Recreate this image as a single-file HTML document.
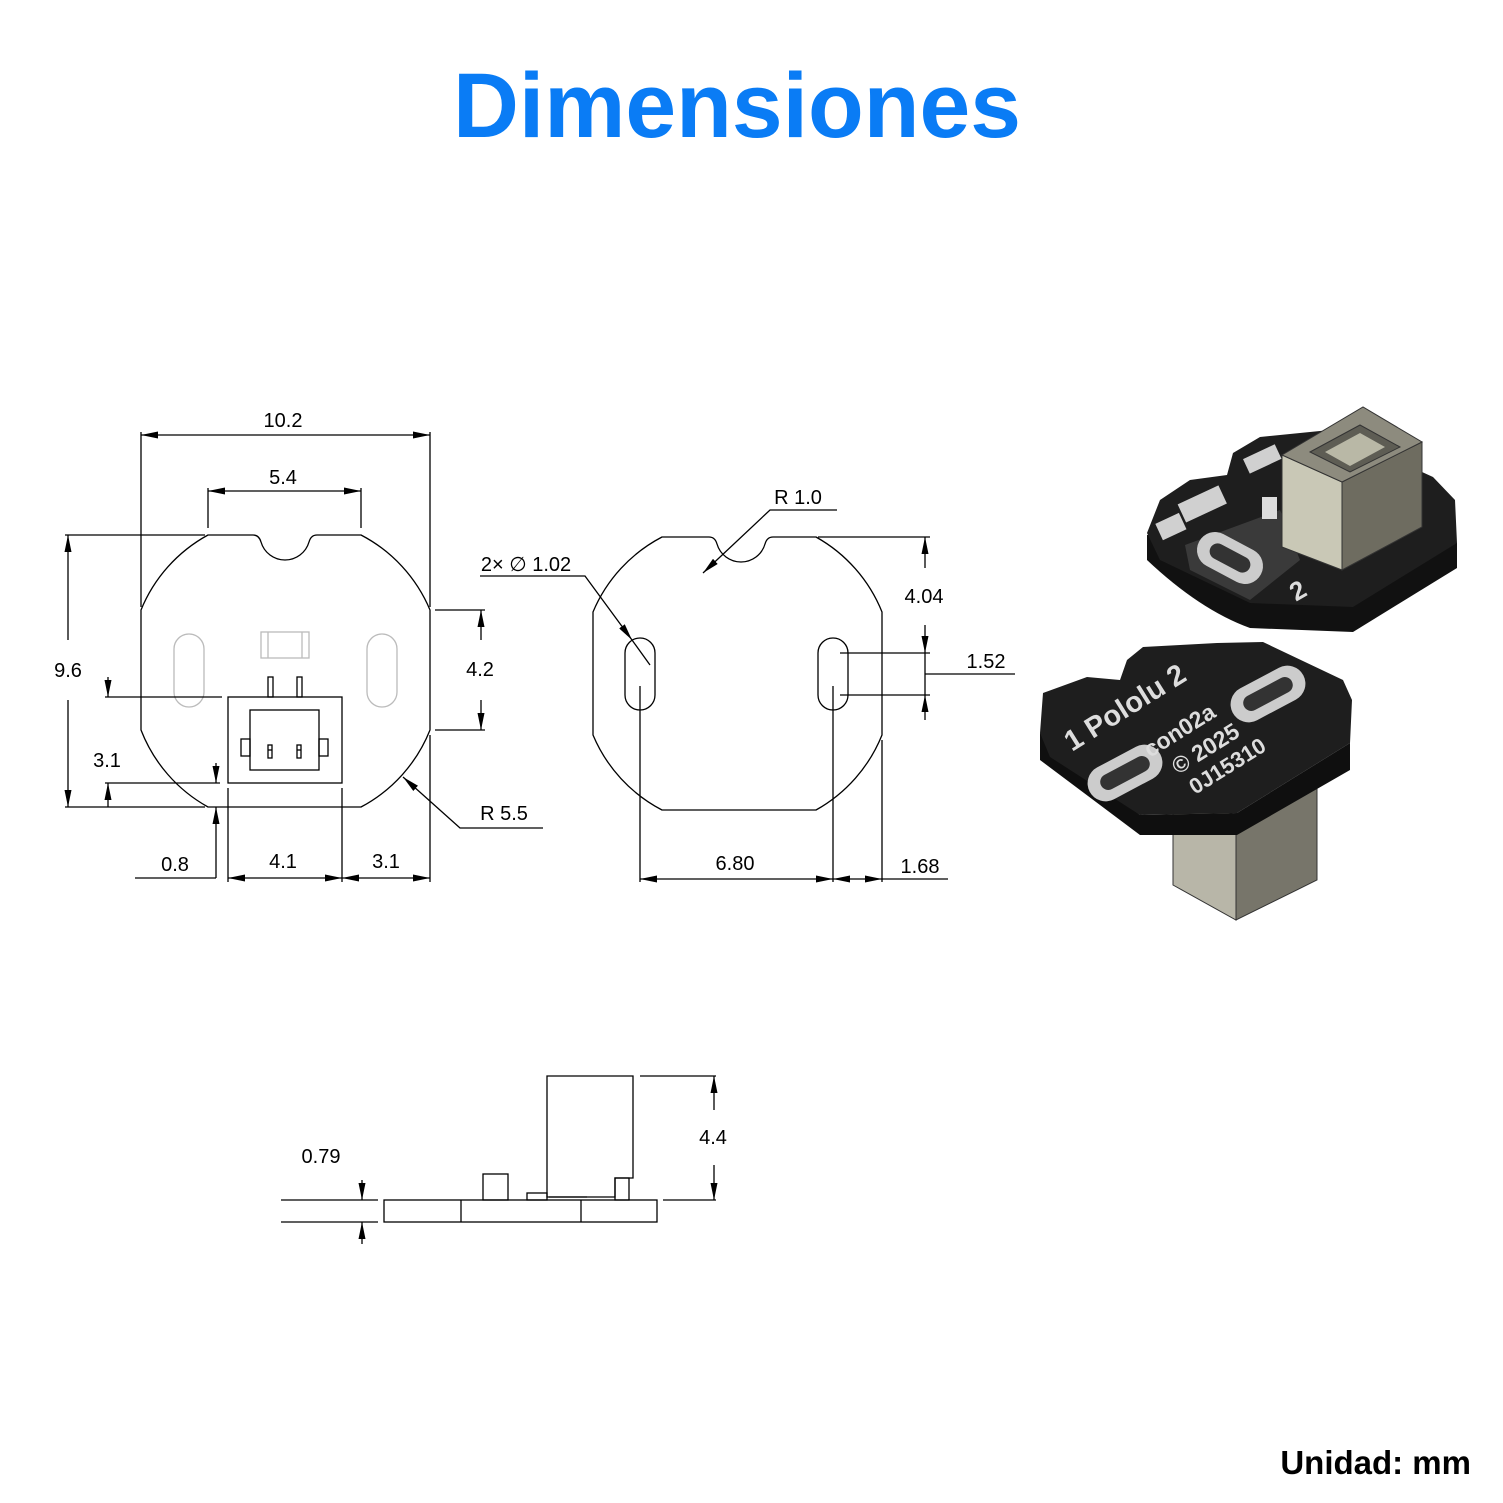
<!DOCTYPE html>
<html><head><meta charset="utf-8"><style>
html,body{margin:0;padding:0;background:#fff;}
svg{display:block;}
</style></head><body>
<svg width="1503" height="1503" viewBox="0 0 1503 1503" xmlns="http://www.w3.org/2000/svg">
<defs>
<marker id="a" markerWidth="17" markerHeight="7" refX="17" refY="3.5" orient="auto-start-reverse" markerUnits="userSpaceOnUse"><path d="M0,0 L17,3.5 L0,7 z" fill="#000"/></marker>
</defs>
<text x="737" y="137" text-anchor="middle" font-family="Liberation Sans, sans-serif" font-weight="bold" font-size="92" fill="#0a7cf5" textLength="568" lengthAdjust="spacingAndGlyphs">Dimensiones</text>

<g fill="none" stroke="#000" stroke-width="1.3">
<path d="M208,535 L253,535 Q259,535 261,542 A25,25 0 0 0 309,542 Q311,535 317,535 L361,535 A150,150 0 0 1 430,610 L430,730 A150,150 0 0 1 361,807 L208,807 A150,150 0 0 1 141,730 L141,610 A150,150 0 0 1 208,535 Z"/>
<g stroke="#bbb"><rect x="174" y="634" width="30" height="73" rx="15"/><rect x="367" y="634" width="30" height="73" rx="15"/><rect x="261" y="632" width="48" height="26"/><line x1="268" y1="632" x2="268" y2="658"/><line x1="302" y1="632" x2="302" y2="658"/></g>
<rect x="228" y="697" width="114" height="86"/>
<rect x="250" y="710" width="69" height="60"/>
<rect x="241" y="739" width="9" height="17"/><rect x="319" y="739" width="9" height="17"/>
<rect x="268" y="677" width="5" height="20"/><rect x="297" y="677" width="5" height="20"/>
<rect x="268" y="745" width="4" height="13"/><rect x="297" y="745" width="4" height="13"/>
<line x1="268" y1="750" x2="272" y2="750"/><line x1="297" y1="750" x2="301" y2="750"/>
<line x1="141" y1="432" x2="141" y2="607"/><line x1="430" y1="432" x2="430" y2="607"/>
<line x1="141" y1="435" x2="430" y2="435" marker-start="url(#a)" marker-end="url(#a)"/>
<line x1="208" y1="488" x2="208" y2="528"/><line x1="361" y1="488" x2="361" y2="528"/>
<line x1="208" y1="491" x2="361" y2="491" marker-start="url(#a)" marker-end="url(#a)"/>
<line x1="65" y1="535" x2="205" y2="535"/><line x1="65" y1="807" x2="205" y2="807"/>
<line x1="68" y1="640" x2="68" y2="535" marker-end="url(#a)"/><line x1="68" y1="700" x2="68" y2="807" marker-end="url(#a)"/>
<line x1="105" y1="697" x2="222" y2="697"/><line x1="108" y1="677" x2="108" y2="697" marker-end="url(#a)"/>
<line x1="105" y1="783" x2="220" y2="783"/><line x1="108" y1="807" x2="108" y2="783" marker-end="url(#a)"/>
<line x1="216" y1="763" x2="216" y2="783" marker-end="url(#a)"/>
<line x1="216" y1="878" x2="216" y2="807" marker-end="url(#a)"/><line x1="135" y1="878" x2="216" y2="878"/>
<line x1="228" y1="788" x2="228" y2="882"/><line x1="342" y1="788" x2="342" y2="882"/>
<line x1="228" y1="878" x2="342" y2="878" marker-start="url(#a)" marker-end="url(#a)"/>
<line x1="342" y1="878" x2="430" y2="878" marker-start="url(#a)" marker-end="url(#a)"/>
<line x1="430" y1="735" x2="430" y2="882"/>
<line x1="435" y1="610" x2="485" y2="610"/><line x1="435" y1="730" x2="485" y2="730"/>
<line x1="481" y1="640" x2="481" y2="610" marker-end="url(#a)"/><line x1="481" y1="700" x2="481" y2="730" marker-end="url(#a)"/>
<polyline points="543,828 460,828 403,777" marker-end="url(#a)"/>

<path d="M662,537 L709,537 Q715,537 717,544 A25,25 0 0 0 765,544 Q767,537 773,537 L816,537 A150,150 0 0 1 882,612 L882,735 A150,150 0 0 1 816,810 L662,810 A150,150 0 0 1 593,735 L593,612 A150,150 0 0 1 662,537 Z"/>
<rect x="625" y="638" width="30" height="72" rx="15"/><rect x="818" y="638" width="30" height="72" rx="15"/>
<polyline points="480,576 585,576 632,640" marker-end="url(#a)"/><line x1="632" y1="640" x2="650" y2="665"/>
<polyline points="837,510 770,510 703,573" marker-end="url(#a)"/>
<line x1="818" y1="537" x2="930" y2="537"/>
<line x1="925" y1="568" x2="925" y2="537" marker-end="url(#a)"/>
<line x1="925" y1="625" x2="925" y2="653" marker-end="url(#a)"/>
<line x1="840" y1="653" x2="930" y2="653"/><line x1="840" y1="695" x2="930" y2="695"/>
<line x1="925" y1="720" x2="925" y2="695" marker-end="url(#a)"/>
<line x1="925" y1="653" x2="925" y2="695"/>
<line x1="925" y1="674" x2="1015" y2="674"/>
<line x1="640" y1="686" x2="640" y2="882"/><line x1="833" y1="686" x2="833" y2="882"/><line x1="882" y1="740" x2="882" y2="882"/>
<line x1="640" y1="879" x2="833" y2="879" marker-start="url(#a)" marker-end="url(#a)"/>
<line x1="833" y1="879" x2="882" y2="879" marker-start="url(#a)" marker-end="url(#a)"/>
<line x1="882" y1="879" x2="948" y2="879"/>

<rect x="384" y="1200" width="273" height="22"/>
<line x1="461" y1="1200" x2="461" y2="1222"/><line x1="581" y1="1200" x2="581" y2="1222"/>
<rect x="483" y="1174" width="25" height="26"/>
<path d="M547,1197 L547,1076 L633,1076 L633,1178 L615,1178 L615,1197 Z"/>
<rect x="615" y="1178" width="14" height="22"/>
<rect x="527" y="1193" width="20" height="7"/>
<line x1="549" y1="1197" x2="587" y2="1197"/>
<line x1="640" y1="1076" x2="716" y2="1076"/><line x1="663" y1="1200" x2="716" y2="1200"/>
<line x1="714" y1="1110" x2="714" y2="1076" marker-end="url(#a)"/><line x1="714" y1="1165" x2="714" y2="1200" marker-end="url(#a)"/>
<line x1="281" y1="1200" x2="378" y2="1200"/><line x1="281" y1="1222" x2="378" y2="1222"/>
<line x1="362" y1="1180" x2="362" y2="1200" marker-end="url(#a)"/><line x1="362" y1="1244" x2="362" y2="1222" marker-end="url(#a)"/>
</g>

<g font-family="Liberation Sans, sans-serif" font-size="20" fill="#000" text-anchor="middle">
<text x="283" y="427">10.2</text><text x="283" y="484">5.4</text>
<text x="68" y="677">9.6</text><text x="107" y="767">3.1</text>
<text x="175" y="871">0.8</text><text x="283" y="868">4.1</text><text x="386" y="868">3.1</text>
<text x="480" y="676">4.2</text><text x="504" y="820">R 5.5</text>
<text x="526" y="571">2× ∅ 1.02</text><text x="798" y="504">R 1.0</text>
<text x="924" y="603">4.04</text><text x="986" y="668">1.52</text>
<text x="735" y="870">6.80</text><text x="920" y="873">1.68</text>
<text x="713" y="1144">4.4</text><text x="321" y="1163">0.79</text>
</g>

<path d="M1147,535 L1147,560 Q1200,610 1250,628 L1353,632 L1457,568 L1457,543 Z" fill="#111"/>
<path d="M1147,533 L1160,500 L1190,480 L1227,475 L1233,453 L1260,437 L1330,430 L1433,477 L1455,500 L1457,543 L1353,607 L1250,603 L1160,560 Z" fill="#1e1e1e"/>
<path d="M1185,545 L1280,510 L1300,560 L1250,600 L1190,570 Z" fill="#3a3a3a"/>
<rect x="1180" y="495" width="45" height="20" fill="#d0d0d0" transform="rotate(-25 1200 505)"/>
<rect x="1245" y="452" width="35" height="16" fill="#d0d0d0" transform="rotate(-25 1260 460)"/>
<rect x="1158" y="518" width="26" height="18" fill="#d0d0d0" transform="rotate(-25 1170 527)"/>
<rect x="1195" y="540" width="70" height="36" rx="18" fill="#ccc" transform="rotate(28 1230 558)"/>
<rect x="1208" y="550" width="44" height="16" rx="8" fill="#333" transform="rotate(28 1230 558)"/>
<rect x="1262" y="497" width="15" height="22" fill="#ddd"/>
<text x="1292" y="603" font-family="Liberation Sans, sans-serif" font-weight="bold" font-size="26" fill="#ddd" transform="rotate(-30 1292 595)">2</text>
<polygon points="1282,455 1342,482 1342,570 1282,547" fill="#c9c8b6" stroke="#333"/>
<polygon points="1342,482 1422,442 1422,527 1342,570" fill="#6e6c60" stroke="#333"/>
<polygon points="1282,455 1363,407 1422,442 1342,482" fill="#8d8b7e" stroke="#333"/>
<polygon points="1310,452 1360,425 1400,447 1350,472" fill="#5e5d54" stroke="#333"/>
<polygon points="1325,452 1360,433 1385,447 1350,466" fill="#b9b8a6"/>

<polygon points="1173,793 1236,815 1236,920 1173,885" fill="#b8b6a8" stroke="#333"/>
<polygon points="1236,815 1317,770 1317,880 1236,920" fill="#77756a" stroke="#333"/>
<path d="M1040,733 L1040,760 L1140,835 L1237,835 L1350,770 L1350,743 L1237,813 L1140,815 Z" fill="#0f0f0f"/>
<path d="M1043,693 L1087,677 L1120,680 L1127,660 L1143,647 L1217,643 L1263,642 L1343,680 L1352,700 L1350,743 L1237,813 L1140,815 L1050,757 L1040,733 Z" fill="#1e1e1e"/>
<rect x="1085" y="755" width="80" height="36" rx="18" fill="#ccc" transform="rotate(-28 1125 773)"/>
<rect x="1098" y="765" width="54" height="16" rx="8" fill="#333" transform="rotate(-28 1125 773)"/>
<rect x="1228" y="676" width="80" height="36" rx="18" fill="#ccc" transform="rotate(-28 1268 694)"/>
<rect x="1241" y="686" width="54" height="16" rx="8" fill="#333" transform="rotate(-28 1268 694)"/>
<g font-family="Liberation Sans, sans-serif" font-weight="bold" fill="#ddd">
<text x="1072" y="752" font-size="29" transform="rotate(-32 1072 752)">1 Pololu 2</text>
<text x="1150" y="758" font-size="23" transform="rotate(-32 1150 758)">con02a</text>
<text x="1178" y="775" font-size="23" transform="rotate(-32 1178 775)">© 2025</text>
<text x="1195" y="795" font-size="22" transform="rotate(-32 1195 795)">0J15310</text>
</g>

<text x="1471" y="1474" text-anchor="end" font-family="Liberation Sans, sans-serif" font-weight="bold" font-size="33" fill="#000">Unidad: mm</text>
</svg>
</body></html>
